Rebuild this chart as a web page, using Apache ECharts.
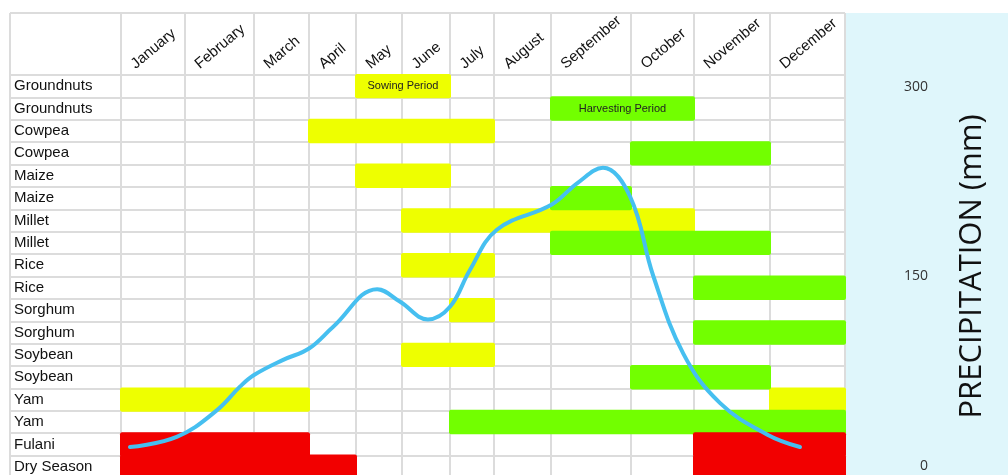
<!DOCTYPE html>
<html>
<head>
<meta charset="utf-8">
<script src="https://cdn.jsdelivr.net/npm/echarts@6/dist/echarts.min.js"></script>
<style>
  html, body { margin: 0; padding: 0; background: #fff; }
  #chart { width: 1008px; height: 475px; }
</style>
</head>
<body>
<div id="chart"></div>
<script>
const months = ['January', 'February', 'March', 'April', 'May', 'June', 'July',
  'August', 'September', 'October', 'November', 'December']
const rowNames = ['Groundnuts', 'Groundnuts', 'Cowpea', 'Cowpea', 'Maize', 'Maize',
  'Millet', 'Millet', 'Rice', 'Rice', 'Sorghum', 'Sorghum', 'Soybean', 'Soybean',
  'Yam', 'Yam', 'Fulani', 'Dry Season']

// [row, first month, month after the last one]
const sowing = [[0, 4, 6], [2, 3, 7], [4, 4, 6], [6, 5, 10], [8, 5, 7],
  [10, 6, 7], [12, 5, 7], [14, 0, 3], [14, 11, 12]]
const harvest = [[1, 8, 10], [3, 9, 11], [5, 8, 9], [7, 8, 11], [9, 10, 12],
  [11, 10, 12], [13, 9, 11], [15, 6, 12]]
const drySeason = [[16, 0, 3], [16, 10, 12], [17, 0, 4], [17, 10, 12]]
const sowingNote = 'Sowing Period'
const harvestNote = 'Harvesting Period'

// precipitation curve, position in months (0 = start of January) and mm
const precipMonth = [0.14, 0.87, 1.46, 1.8, 2.0, 2.53, 3.0, 3.51, 4.46, 4.96, 5.54, 6.0,
  6.45, 7.05, 8.01, 8.33, 8.65, 8.99, 9.35, 9.83, 10.34, 10.96, 11.4]
const precipMm = [15, 23, 44, 63, 72, 84, 93, 110, 140, 130, 116, 126,
  155, 187, 207, 224, 236, 213, 151, 89, 50, 25, 15]
const precipTicks = [0, 150, 300]

// table layout (month columns are not all the same width)
const colWidths = [64, 69, 55, 47, 46, 48, 44, 57, 80, 63, 76, 75]
const labelColWidth = 111
const rowHeight = 22.4
const headerRows = 62 / rowHeight

const cum = [0]
colWidths.forEach((w, i) => cum.push(cum[i] + w))
const colEdges = [-labelColWidth].concat(cum)
const monthLabelAt = cum.slice(0, 12).map(c => c + 12)
const rowEdges = [-headerRows].concat(rowNames.map((r, i) => i), [rowNames.length])
const rowCenters = rowNames.map((r, i) => i + 0.5)

function monthToX(m) {
  const i = Math.min(Math.floor(m), 11)
  return cum[i] + (m - i) * colWidths[i]
}

const lineColor = '#dcdcdc'
const textFont = 'Liberation Sans'

function periodSeries(name, rows, color, note) {
  return {
    name,
    type: 'custom',
    xAxisIndex: 0,
    yAxisIndex: 0,
    z: 3,
    silent: true,
    data: rows.map(r => [r[0], cum[r[1]], cum[r[2]]]),
    encode: { x: [1, 2], y: 0 },
    renderItem(params, api) {
      const a = api.coord([api.value(1), api.value(0)])
      const b = api.coord([api.value(2), api.value(0) + 1])
      const el = {
        type: 'rect',
        shape: { x: a[0] - 1, y: a[1] - 1, width: b[0] - a[0] + 2, height: b[1] - a[1] + 2, r: 2 },
        style: { fill: color },
      }
      if (note && params.dataIndex === 0) {
        el.textContent = { style: { text: note, fontSize: 11, fill: '#222', fontFamily: textFont } }
        el.textConfig = { position: 'inside' }
      }
      return el
    },
  }
}

const chart = echarts.init(document.getElementById('chart'))
chart.setOption({
  backgroundColor: '#fff',
  animation: false,
  graphic: [{
    type: 'rect', z: -10,
    shape: { x: 845, y: 13, width: 163, height: 462 },
    style: { fill: '#dff6fb' },
  }],
  grid: [
    { left: 10, right: 163, top: 13, height: 465, outerBoundsMode: 'none' },
    { left: 10, right: 163, top: 87, height: 379, outerBoundsMode: 'none' },
  ],
  xAxis: [
    {
      gridIndex: 0, type: 'value', position: 'top', offset: -62,
      min: -labelColWidth, max: cum[12],
      axisLine: { show: false },
      axisTick: { show: false, customValues: colEdges },
      axisLabel: {
        customValues: monthLabelAt,
        formatter: v => months[monthLabelAt.indexOf(v)],
        rotate: 40, margin: 9, fontSize: 15, color: '#111', fontFamily: textFont,
      },
      splitLine: { show: true, lineStyle: { color: lineColor, width: 2 } },
    },
    { gridIndex: 1, type: 'value', min: -labelColWidth, max: cum[12], show: false },
  ],
  yAxis: [
    {
      gridIndex: 0, type: 'value', inverse: true,
      min: -headerRows, max: rowNames.length,
      axisLine: { show: false },
      axisTick: { show: false, customValues: rowEdges },
      axisLabel: {
        inside: true, margin: 4,
        customValues: rowCenters,
        formatter: v => rowNames[Math.floor(v)],
        fontSize: 15, color: '#111', fontFamily: textFont,
      },
      splitLine: { show: true, lineStyle: { color: lineColor, width: 2 } },
    },
    {
      gridIndex: 1, type: 'value', position: 'right',
      min: 0, max: 300,
      axisLine: { show: false },
      axisTick: { show: false },
      splitLine: { show: false },
      axisLabel: {
        customValues: precipTicks,
        align: 'right', margin: 83,
        fontSize: 14, color: '#333', fontFamily: 'Open Sans',
      },
      name: 'PRECIPITATION (mm)',
      nameLocation: 'middle',
      nameRotate: 90,
      nameGap: 112,
      nameTextStyle: { fontSize: 31, color: '#111', fontFamily: 'Open Sans', padding: [0, 0, 0, 20] },
    },
  ],
  series: [
    periodSeries('Sowing', sowing, '#eeff00', sowingNote),
    periodSeries('Harvest', harvest, '#72ff00', harvestNote),
    periodSeries('Dry season', drySeason, '#f20000', null),
    {
      name: 'Precipitation',
      type: 'line',
      xAxisIndex: 1,
      yAxisIndex: 1,
      z: 5,
      silent: true,
      smooth: 0.4,
      showSymbol: false,
      data: precipMonth.map((m, i) => [monthToX(m), precipMm[i]]),
      lineStyle: { color: '#46bff0', width: 4, cap: 'round' },
    },
  ],
})
</script>
</body>
</html>
